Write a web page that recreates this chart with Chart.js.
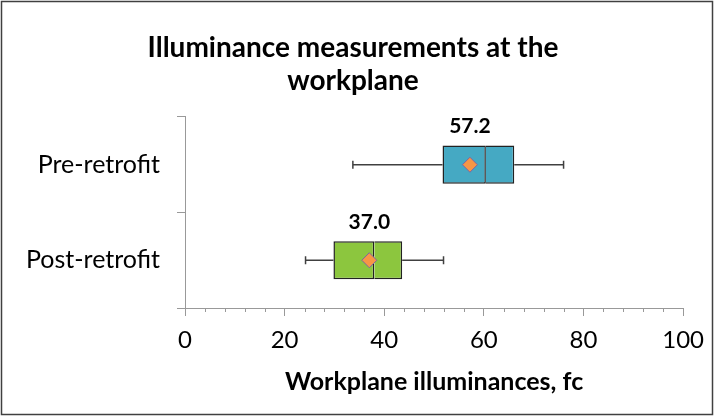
<!DOCTYPE html>
<html>
<head>
<meta charset="utf-8">
<script src="https://cdn.jsdelivr.net/npm/chart.js@4"></script>
<style>
  body { margin: 0; background: #fff; }
</style>
</head>
<body>
<canvas id="chartCanvas" width="714" height="416"></canvas>
<script>
// Box plot values
const categories = ['Pre-retrofit', 'Post-retrofit'];
const minValues = [33.7, 24.2];
const q1Values = [51.7, 29.8];
const medianValues = [60.4, 38.0];
const q3Values = [66.1, 43.6];
const maxValues = [76.0, 51.9];
const meanValues = [57.2, 37.0];
const boxColors = ['#45A9C3', '#8CC63E'];
const xTickValues = [0, 20, 40, 60, 80, 100];

const fontFamily = 'Lato, "Open Sans", sans-serif';

// Whiskers, minor ticks, mean labels and the outer frame
const boxExtras = {
    id: 'boxExtras',
    beforeDatasetsDraw(chart) {
        const ctx = chart.ctx;
        const x = chart.scales.x;
        const y = chart.scales.y;
        ctx.save();
        ctx.strokeStyle = '#404040';
        ctx.lineWidth = 1.5;
        categories.forEach((c, i) => {
            const yc = y.getPixelForValue(i);
            const xMin = x.getPixelForValue(minValues[i]);
            const xMax = x.getPixelForValue(maxValues[i]);
            ctx.beginPath();
            ctx.moveTo(xMin, yc);
            ctx.lineTo(x.getPixelForValue(q1Values[i]), yc);
            ctx.moveTo(x.getPixelForValue(q3Values[i]), yc);
            ctx.lineTo(xMax, yc);
            ctx.moveTo(xMin, yc - 4);
            ctx.lineTo(xMin, yc + 4);
            ctx.moveTo(xMax, yc - 4);
            ctx.lineTo(xMax, yc + 4);
            ctx.stroke();
        });
        ctx.restore();
    },
    afterDatasetsDraw(chart) {
        const ctx = chart.ctx;
        const x = chart.scales.x;
        const bars = chart.getDatasetMeta(1).data; // box datasets
        ctx.save();
        ctx.fillStyle = '#000';
        ctx.font = 'bold 21px ' + fontFamily;
        ctx.textAlign = 'center';
        ctx.textBaseline = 'middle';
        meanValues.forEach((m, i) => {
            const el = bars[i];
            ctx.fillText(m.toFixed(1), x.getPixelForValue(m), el.y - el.height / 2 - 19);
        });
        ctx.restore();
    },
    afterDraw(chart) {
        const ctx = chart.ctx;
        const x = chart.scales.x;
        const yBottom = chart.chartArea.bottom;
        ctx.save();
        // minor ticks every 4
        ctx.strokeStyle = '#999';
        ctx.lineWidth = 1;
        ctx.beginPath();
        for (let v = 0; v <= 100; v += 4) {
            if (v % 20 === 0) continue;
            const px = Math.round(x.getPixelForValue(v)) + 0.5;
            ctx.moveTo(px, yBottom);
            ctx.lineTo(px, yBottom + 4);
        }
        ctx.stroke();
        // frame
        ctx.strokeStyle = '#404040';
        ctx.lineWidth = 1.5;
        ctx.strokeRect(1.5, 1.5, chart.width - 3, chart.height - 3);
        ctx.restore();
    }
};

const chartContext = document.getElementById('chartCanvas').getContext('2d');
const boxChart = new Chart(chartContext, {
    type: 'bar',
    data: {
        labels: categories,
        datasets: [{
            type: 'scatter',
            label: 'Mean',
            order: 0,
            data: meanValues.map((m, i) => ({ x: m, y: i })),
            pointStyle: 'rectRot',
            pointRadius: 7.5,
            backgroundColor: '#F79646',
            borderColor: '#8064A2',
            borderWidth: 1
        }, {
            label: 'Q1-median',
            order: 1,
            data: q1Values.map((q, i) => [q, medianValues[i]]),
            backgroundColor: boxColors,
            borderColor: '#222',
            borderWidth: 1.5,
            borderSkipped: false,
            grouped: false,
            barPercentage: 0.4,
            categoryPercentage: 1
        }, {
            label: 'median-Q3',
            order: 1,
            data: medianValues.map((m, i) => [m, q3Values[i]]),
            backgroundColor: boxColors,
            borderColor: '#222',
            borderWidth: { top: 1.5, bottom: 1.5, right: 1.5, left: 0 },
            borderSkipped: false,
            grouped: false,
            barPercentage: 0.4,
            categoryPercentage: 1
        }]
    },
    options: {
        indexAxis: 'y',
        responsive: false,
        animation: false,
        layout: { padding: { left: 20, right: 28, bottom: 0 } },
        plugins: {
            legend: { display: false },
            tooltip: { enabled: false },
            title: {
                display: true,
                text: ['Illuminance measurements at the', 'workplane'],
                color: '#000',
                font: { family: fontFamily, size: 28, weight: 'bold', lineHeight: 1.16 },
                padding: { top: 32, bottom: 20 }
            }
        },
        scales: {
            x: {
                type: 'linear',
                min: 0,
                max: 100,
                afterBuildTicks: (scale) => {
                    scale.ticks = xTickValues.map(v => ({ value: v }));
                },
                afterFit: (scale) => { scale.height = 108; },
                grid: { drawOnChartArea: false, tickLength: 8, color: '#999' },
                border: { color: '#999' },
                ticks: { color: '#000', font: { family: fontFamily, size: 24 }, padding: 10 },
                title: {
                    display: true,
                    text: 'Workplane illuminances, fc',
                    color: '#000',
                    font: { family: fontFamily, size: 25, weight: 'bold' },
                    padding: { top: 6, bottom: 19 }
                }
            },
            y: {
                afterFit: (scale) => { scale.width = 165; },
                grid: { drawOnChartArea: false, tickLength: 8, color: '#999', offset: true },
                border: { color: '#999' },
                ticks: { color: '#000', font: { family: fontFamily, size: 25 }, padding: 17 }
            }
        }
    },
    plugins: [boxExtras]
});
</script>
</body>
</html>
